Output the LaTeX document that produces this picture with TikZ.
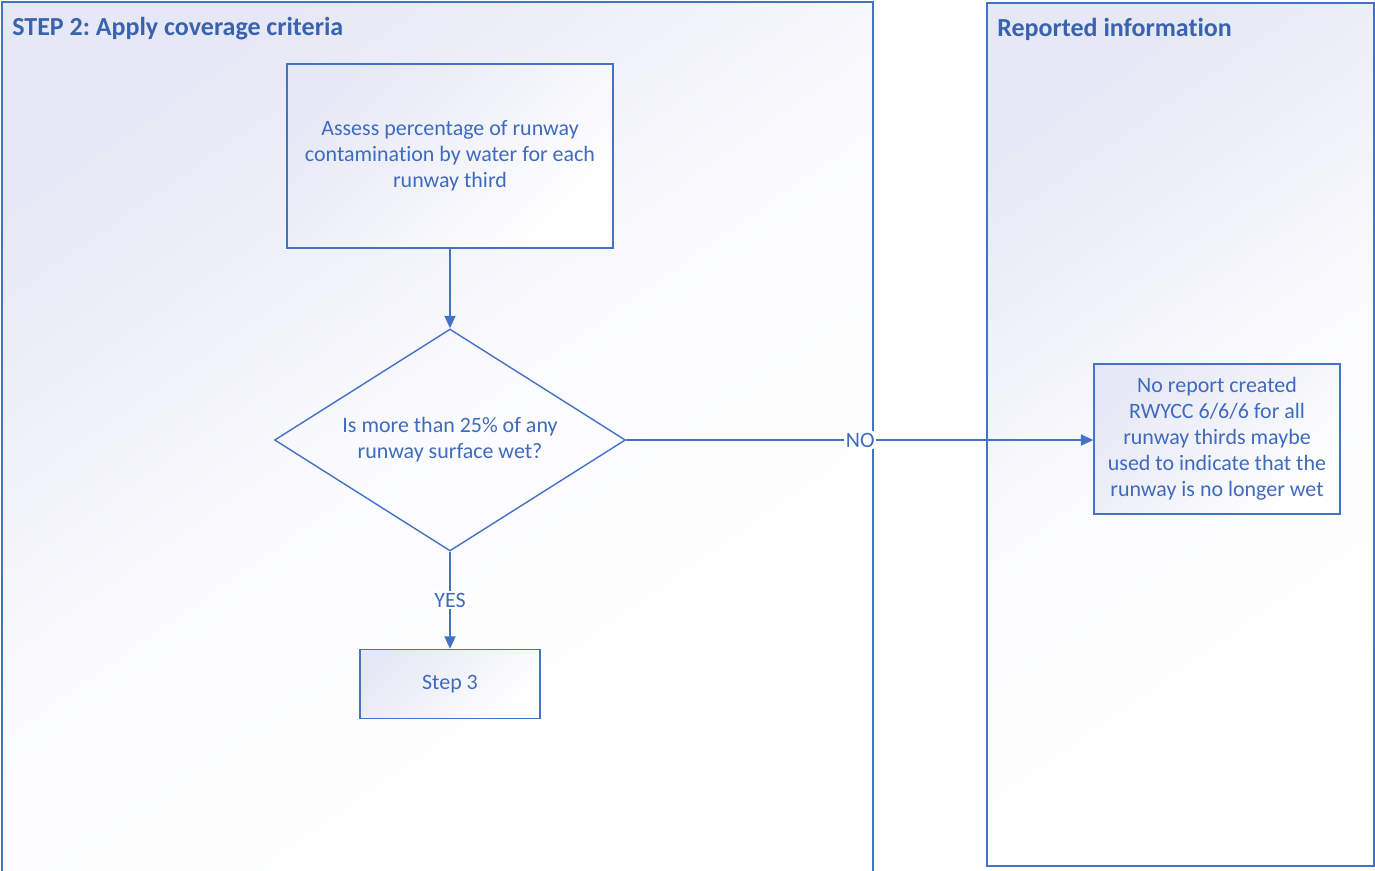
\documentclass[tikz,border=0pt]{standalone}
\usepackage{fontspec}
\setmainfont{Carlito}[Ligatures=NoCommon]
\usetikzlibrary{arrows.meta,shapes.geometric}
\frenchspacing

\begin{document}
\begin{tikzpicture}[x=0.02cm, y=-0.02cm]
    \definecolor{lineBlue}{HTML}{4472C4}
    \definecolor{textBlue}{HTML}{3F6BBF}
    \definecolor{titleBlue}{HTML}{3A63AE}
    \definecolor{panelTint}{HTML}{E6E8F5}

    \tikzset{
        flowbox/.style={draw=lineBlue, line width=0.8pt, top color=panelTint, bottom color=white, shading angle=45, text=textBlue, align=center, inner sep=0pt, font=\fontsize{12.5}{14.8}\selectfont},
        decision/.style={diamond, draw=lineBlue, line width=0.8pt, aspect=1.58, text=textBlue, align=center, inner sep=0pt, minimum width=7.02cm, minimum height=4.44cm, font=\fontsize{12.5}{14.8}\selectfont},
        flowlabel/.style={fill=white, text=textBlue, inner sep=1pt, font=\fontsize{12.5}{14.8}\selectfont},
        flowarrow/.style={draw=lineBlue, line width=1pt, -{Triangle[length=0.25cm, width=0.22cm]}},
        paneltitle/.style={anchor=west, text=titleBlue, font=\fontsize{14.8}{17}\selectfont\bfseries, inner sep=0pt},
        panelshade/.style={top color=panelTint, bottom color=white, middle color=white!85!panelTint, shading angle=35}
    }

    \useasboundingbox (0,0) rectangle (1375,870);

    % Draw panels
    \fill[panelshade] (2,2) rectangle (873,875);
    \draw[lineBlue, line width=1pt] (2,875) -- (2,2) -- (873,2) -- (873,875);
    \filldraw[draw=lineBlue, line width=1pt, panelshade] (987,3) rectangle (1374,866);

    % Panel titles
    \node[paneltitle] (stepTitle) at (12,29) {STEP 2: Apply coverage criteria};
    \node[paneltitle] (reportTitle) at (997,29.5) {Reported information};

    % Flow nodes
    \node[flowbox, minimum width=6.52cm, minimum height=3.68cm] (assess) at (450,156)
        {Assess percentage of runway\\contamination by water for each\\runway third};
    \node[decision] (wetCheck) at (450,440) {Is more than 25\% of any\\runway surface wet?};
    \node[flowbox, minimum width=3.6cm, minimum height=1.38cm] (step3) at (450,684) {Step 3};
    \node[flowbox, minimum width=4.92cm, minimum height=3cm] (noReport) at (1217,439)
        {No report created\\RWYCC 6/6/6 for all\\runway thirds maybe\\used to indicate that the\\runway is no longer wet};

    % Connectors
    \draw[flowarrow] (assess) -- (wetCheck);
    \draw[flowarrow] (wetCheck) -- node[flowlabel] (yesLabel) {YES} (step3);
    \draw[flowarrow] (wetCheck.east) -- node[flowlabel, pos=0.501] (noLabel) {NO} (noReport.west |- wetCheck.east);

\end{tikzpicture}
\end{document}
